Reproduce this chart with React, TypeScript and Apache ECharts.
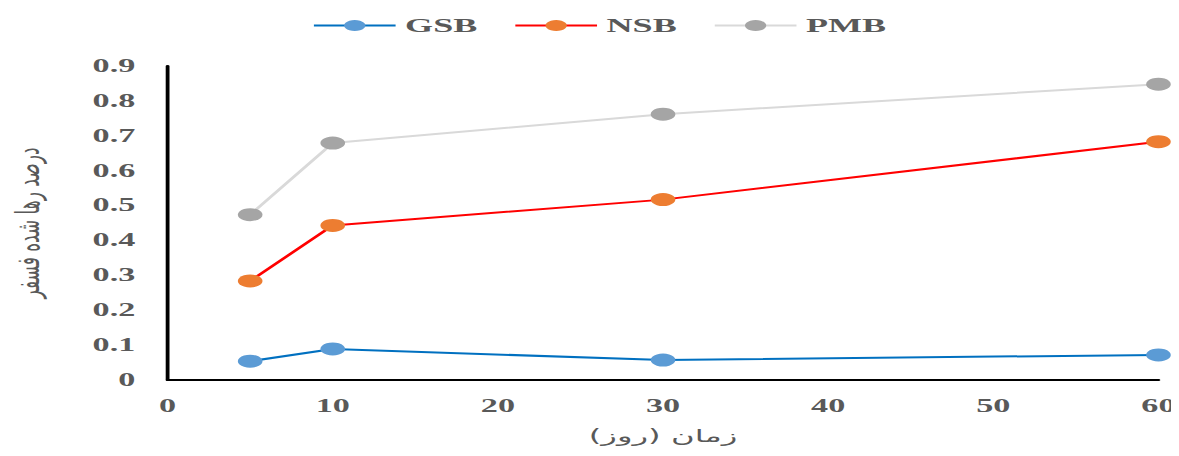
import React, { useEffect, useRef } from "react";
import * as echarts from "echarts";

const days = [5, 10, 30, 60];
const gsb = [0.054, 0.089, 0.057, 0.072];
const nsb = [0.284, 0.443, 0.517, 0.683];
const pmb = [0.474, 0.679, 0.762, 0.848];
const seriesNames = ["GSB", "NSB", "PMB"];
const xTitle = "زمان (روز)";
const yTitle = "درصد رها شده فسفر";

const STRETCH = 1.9;
const W = 1171 / STRETCH;

export default function App() {
  const ref = useRef<HTMLDivElement>(null);
  useEffect(() => {
    const chart = echarts.init(ref.current!, null, { renderer: "svg" });
    const txt = { fontFamily: "Liberation Serif", fontWeight: "bold" as const, color: "#595959" };
    const mk = (name: string, vals: number[], line: string, dot: string) => ({
      name,
      type: "line",
      data: days.map((d, i) => [d, vals[i]]),
      symbol: "circle",
      symbolSize: 13,
      lineStyle: { color: line, width: 2 },
      itemStyle: { color: dot },
    });
    chart.setOption({
      animation: false,
      legend: {
        top: 3,
        left: 155,
        itemWidth: 43,
        itemHeight: 14,
        itemGap: 19,
        textStyle: { ...txt, fontSize: 19 },
        data: seriesNames,
      },
      grid: { left: 84, right: 10.5, top: 58, bottom: 68, outerBoundsMode: "none", containLabel: false },
      xAxis: {
        type: "value",
        min: 0,
        max: 60,
        interval: 10,
        name: xTitle,
        nameLocation: "middle",
        nameGap: 48,
        nameTextStyle: { fontFamily: "DejaVu Sans", fontSize: 17, color: "#595959" },
        axisLine: { lineStyle: { color: "#000", width: 2 } },
        axisTick: { show: false },
        splitLine: { show: false },
        axisLabel: { ...txt, fontSize: 18, margin: 17 },
      },
      yAxis: {
        type: "value",
        min: 0,
        max: 0.9,
        interval: 0.1,
        name: yTitle,
        nameLocation: "middle",
        nameGap: 65,
        nameRotate: 90,
        nameTextStyle: { fontFamily: "DejaVu Sans", fontSize: 17, lineHeight: 17, color: "#595959" },
        axisLine: { show: true, lineStyle: { color: "#000", width: 2 } },
        axisTick: { show: false },
        splitLine: { show: false },
        axisLabel: {
          ...txt,
          fontSize: 18,
          margin: 17,
          formatter: (v: number) => (v === 0 ? "0" : v.toFixed(1)),
        },
      },
      series: [
        mk(seriesNames[0], gsb, "#0070C0", "#5B9BD5"),
        mk(seriesNames[1], nsb, "#FF0000", "#ED7D31"),
        mk(seriesNames[2], pmb, "#D9D9D9", "#A5A5A5"),
      ],
    });
    return () => chart.dispose();
  }, []);
  return (
    <div
      ref={ref}
      style={{ width: W, height: 440, transform: `scaleX(${STRETCH})`, transformOrigin: "0 0" }}
    />
  );
}
